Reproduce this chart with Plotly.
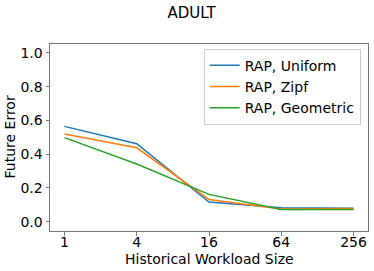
import plotly.graph_objects as go
import math

sizes = [1, 4, 16, 64, 256]
tick_labels = ["1", "4", "16", "64", "256"]
uniform = [0.565, 0.462, 0.117, 0.083, 0.080]
zipf = [0.520, 0.438, 0.132, 0.076, 0.078]
geometric = [0.498, 0.342, 0.162, 0.073, 0.073]

series = [("RAP, Uniform", uniform, "#1f77b4"),
          ("RAP, Zipf", zipf, "#ff7f0e"),
          ("RAP, Geometric", geometric, "#2ca02c")]

fig = go.Figure()
for name, vals, color in series:
    fig.add_trace(go.Scatter(x=sizes, y=vals, mode="lines", name=name,
                             line=dict(color=color, width=1.5)))

font = "DejaVu Sans, sans-serif"
L, R, T, B = 50, 6, 44, 40
fig.update_layout(
    width=374, height=271,
    margin=dict(l=L, r=R, t=T, b=B, autoexpand=False),
    paper_bgcolor="white", plot_bgcolor="white",
    font=dict(family=font, size=14, color="black"),
    title=dict(text="ADULT", x=191.5 / 374, xanchor="center", y=1 - 12.5 / 271, yanchor="middle",
               font=dict(size=15)),
    showlegend=True,
    legend=dict(x=0.977, y=0.975, xanchor="right", yanchor="top",
                bordercolor="#cccccc", borderwidth=1, bgcolor="rgba(255,255,255,0.8)",
                font=dict(size=14), tracegroupgap=0, itemwidth=30),
    annotations=[
        dict(text="Historical Workload Size", xref="paper", yref="paper", x=0.5, y=0,
             xanchor="center", yanchor="middle", yshift=-28, showarrow=False,
             font=dict(size=14)),
        dict(text="Future Error", xref="paper", yref="paper", x=0, y=0.5,
             xanchor="center", yanchor="middle", xshift=-41, textangle=-90, showarrow=False,
             font=dict(size=14)),
    ],
)
fig.update_xaxes(type="log", range=[math.log10(1) - 0.4 * math.log10(2), math.log10(256) + 0.4 * math.log10(2)],
                 tickvals=sizes, ticktext=tick_labels, showgrid=False, zeroline=False,
                 showline=True, mirror=True, linecolor="#777", linewidth=1,
                 ticks="outside", ticklen=3.5, tickcolor="#777", automargin=False,
                 ticklabelstandoff=-5, tickfont=dict(size=14))
fig.update_yaxes(range=[-0.055, 1.053], tickvals=[0, 0.2, 0.4, 0.6, 0.8, 1.0],
                 ticktext=["0.0", "0.2", "0.4", "0.6", "0.8", "1.0"],
                 showgrid=False, zeroline=False, showline=True, mirror=True, automargin=False,
                 linecolor="#777", linewidth=1, ticks="outside", ticklen=3.5, tickcolor="#777",
                 tickfont=dict(size=14))
fig.write_html("out.html", post_script="document.body.style.margin='0';",
               config={"displayModeBar": False})
